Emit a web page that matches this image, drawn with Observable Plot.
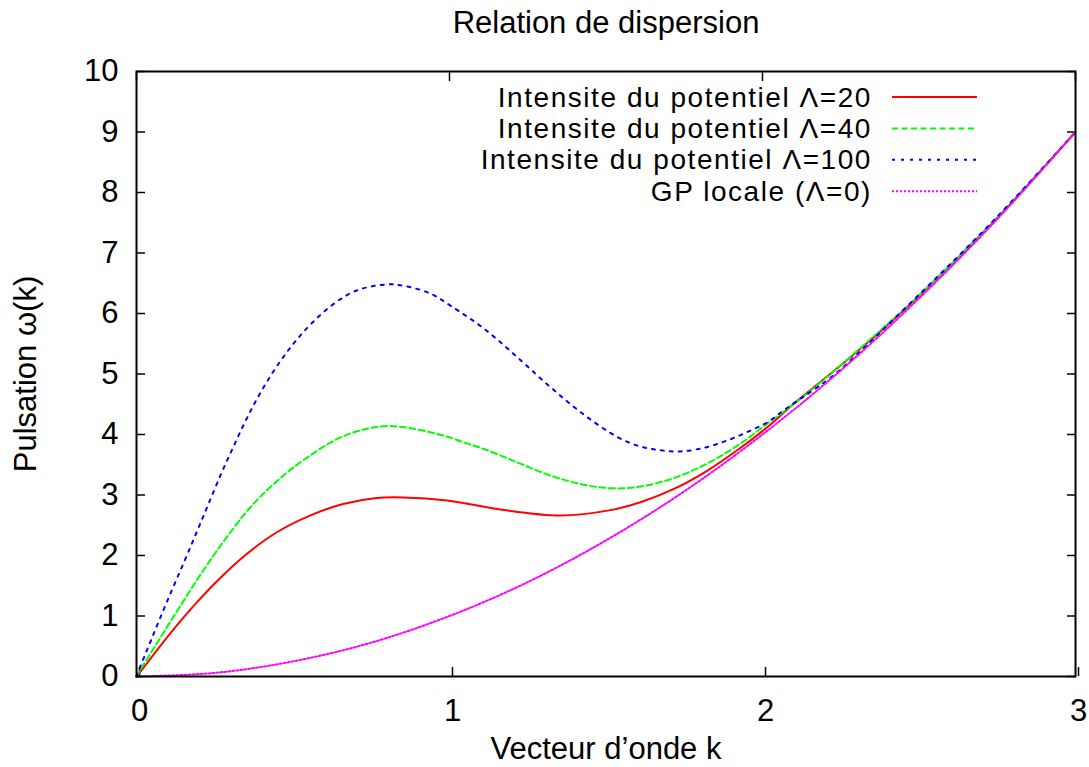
<!DOCTYPE html>
<html>
<head>
<meta charset="utf-8">
<script src="https://cdn.jsdelivr.net/npm/d3@7"></script>
<script src="https://cdn.jsdelivr.net/npm/@observablehq/plot@0.6"></script>
<style>
  html, body { margin: 0; padding: 0; background: #fff; }
  #wrap { position: relative; width: 1089px; height: 767px; font-family: "Liberation Sans", Arial, sans-serif; }
  #legend { position: absolute; left: 0; top: 0; pointer-events: none; }
</style>
</head>
<body>
<div id="wrap"></div>
<script>
// ---- data ----
const title = "Relation de dispersion";
const xLabel = "Vecteur d’onde k";
const yLabel = "Pulsation ω(k)";
const xTicks = [0, 1, 2, 3];
const yTicks = [0, 1, 2, 3, 4, 5, 6, 7, 8, 9, 10];

const seriesNames = [
  "Intensite du potentiel Λ=20",
  "Intensite du potentiel Λ=40",
  "Intensite du potentiel Λ=100",
  "GP locale (Λ=0)"
];
const seriesColors = ["#ff0000", "#00ff00", "#0000ff", "#ff00ff"];
const seriesDash = ["none", "6,3.5", "3,6", "2,2"];

// Λ=20
const k20 = [0, 0.011, 0.106, 0.192, 0.266, 0.351, 0.447, 0.554, 0.660, 0.767, 0.852, 0.993, 1.163, 1.355, 1.514, 1.610, 1.717, 1.823, 1.930, 2.015, 2.100, 2.30, 2.50, 2.75, 3.0];
const w20 = [0, 0.07, 0.70, 1.22, 1.62, 2.02, 2.38, 2.66, 2.85, 2.95, 2.96, 2.91, 2.76, 2.66, 2.75, 2.88, 3.10, 3.40, 3.78, 4.12, 4.51, 5.36, 6.29, 7.58, 9.0];
// Λ=40
const k40 = [0, 0.011, 0.064, 0.138, 0.213, 0.288, 0.373, 0.469, 0.554, 0.639, 0.724, 0.809, 0.961, 1.046, 1.110, 1.216, 1.323, 1.429, 1.525, 1.610, 1.717, 1.823, 1.930, 2.015, 2.100, 2.185, 2.30, 2.50, 2.75, 3.0];
const w40 = [0, 0.10, 0.54, 1.15, 1.75, 2.30, 2.85, 3.32, 3.65, 3.92, 4.08, 4.14, 4.01, 3.87, 3.76, 3.54, 3.32, 3.17, 3.11, 3.14, 3.28, 3.52, 3.85, 4.18, 4.50, 4.86, 5.37, 6.30, 7.59, 9.0];
// Λ=100
const k100 = [0, 0.011, 0.048, 0.096, 0.155, 0.195, 0.229, 0.272, 0.309, 0.346, 0.383, 0.426, 0.469, 0.511, 0.564, 0.628, 0.703, 0.799, 0.852, 0.939, 1.003, 1.110, 1.216, 1.323, 1.429, 1.536, 1.610, 1.674, 1.738, 1.813, 1.887, 1.951, 2.015, 2.068, 2.121, 2.175, 2.239, 2.50, 2.75, 3.0];
const w100 = [0, 0.15, 0.62, 1.22, 1.93, 2.42, 2.84, 3.37, 3.79, 4.20, 4.57, 4.95, 5.28, 5.56, 5.86, 6.15, 6.38, 6.48, 6.46, 6.33, 6.13, 5.75, 5.28, 4.78, 4.33, 3.96, 3.80, 3.74, 3.72, 3.78, 3.90, 4.04, 4.20, 4.40, 4.59, 4.78, 5.03, 6.31, 7.60, 9.0];
// Λ=0 (GP locale)
const k0 = [0, 0.25, 0.5, 0.75, 1.0, 1.25, 1.5, 1.75, 2.0, 2.25, 2.5, 2.75, 3.0];
const w0 = [0, 0.06, 0.25, 0.56, 1.0, 1.56, 2.25, 3.06, 4.0, 5.06, 6.25, 7.56, 9.0];

const ks = [k20, k40, k100, k0];
const ws = [w20, w40, w100, w0];

const FONT = "Liberation Sans, Arial, sans-serif";
const FS = 31;

const lineMarks = ks.map((kk, i) =>
  Plot.line(kk.map((k, j) => ({k, w: ws[i][j]})), {
    x: "k", y: "w",
    stroke: seriesColors[i],
    strokeWidth: 2,
    strokeDasharray: seriesDash[i],
    curve: "catmull-rom"
  })
);

const chart = Plot.plot({
  width: 1089,
  height: 767,
  marginLeft: 136,
  marginRight: 14,
  marginTop: 71,
  marginBottom: 91,
  style: {fontFamily: FONT, fontSize: FS + "px", color: "#000", background: "#fff"},
  x: {domain: [0, 3]},
  y: {domain: [0, 10]},
  marks: [
    Plot.axisX({ticks: xTicks, tickSize: -9, tickPadding: 31, dx: 3, tickFormat: d => String(d), label: null, fontSize: FS, strokeWidth: 1.5}),
    Plot.axisX({ticks: xTicks, anchor: "top", tickSize: -9, tickFormat: () => "", label: null, strokeWidth: 1.5}),
    Plot.axisY({ticks: yTicks, tickSize: -9, tickPadding: 27, tickFormat: d => String(d), label: null, fontSize: FS, strokeWidth: 1.5}),
    Plot.axisY({ticks: yTicks, anchor: "right", tickSize: -9, tickFormat: () => "", label: null, strokeWidth: 1.5}),
    ...lineMarks,
    Plot.frame({stroke: "#000", strokeWidth: 2}),
    Plot.text([title], {frameAnchor: "top", lineAnchor: "middle", textAnchor: "middle", dy: -48, fontSize: FS, fill: "#000"}),
    Plot.text([xLabel], {frameAnchor: "bottom", lineAnchor: "middle", textAnchor: "middle", dy: 73, fontSize: FS, fill: "#000"}),
    Plot.text([yLabel], {frameAnchor: "left", lineAnchor: "middle", textAnchor: "middle", dx: -110, rotate: -90, fontSize: FS, fill: "#000"})
  ]
});

const wrap = document.getElementById("wrap");
wrap.appendChild(chart);

// legend (top-right, inside the frame, as in the reference)
const ns = "http://www.w3.org/2000/svg";
const leg = document.createElementNS(ns, "svg");
leg.setAttribute("id", "legend");
leg.setAttribute("width", 1089);
leg.setAttribute("height", 767);
const LFS = 28;
const rowY0 = 97, rowStep = 31.4, textRight = 872, lineX1 = 892, lineX2 = 977;
seriesNames.forEach((name, i) => {
  const y = rowY0 + i * rowStep;
  const t = document.createElementNS(ns, "text");
  t.setAttribute("x", textRight);
  t.setAttribute("y", y);
  t.setAttribute("text-anchor", "end");
  t.setAttribute("dominant-baseline", "central");
  t.setAttribute("font-family", FONT);
  t.setAttribute("font-size", LFS);
  t.setAttribute("letter-spacing", "1.55");
  t.setAttribute("fill", "#000");
  t.textContent = name;
  leg.appendChild(t);
  const l = document.createElementNS(ns, "line");
  l.setAttribute("x1", lineX1); l.setAttribute("x2", lineX2);
  l.setAttribute("y1", y); l.setAttribute("y2", y);
  l.setAttribute("stroke", seriesColors[i]);
  l.setAttribute("stroke-width", 2);
  if (seriesDash[i] !== "none") l.setAttribute("stroke-dasharray", seriesDash[i]);
  leg.appendChild(l);
});
wrap.appendChild(leg);
</script>
</body>
</html>
